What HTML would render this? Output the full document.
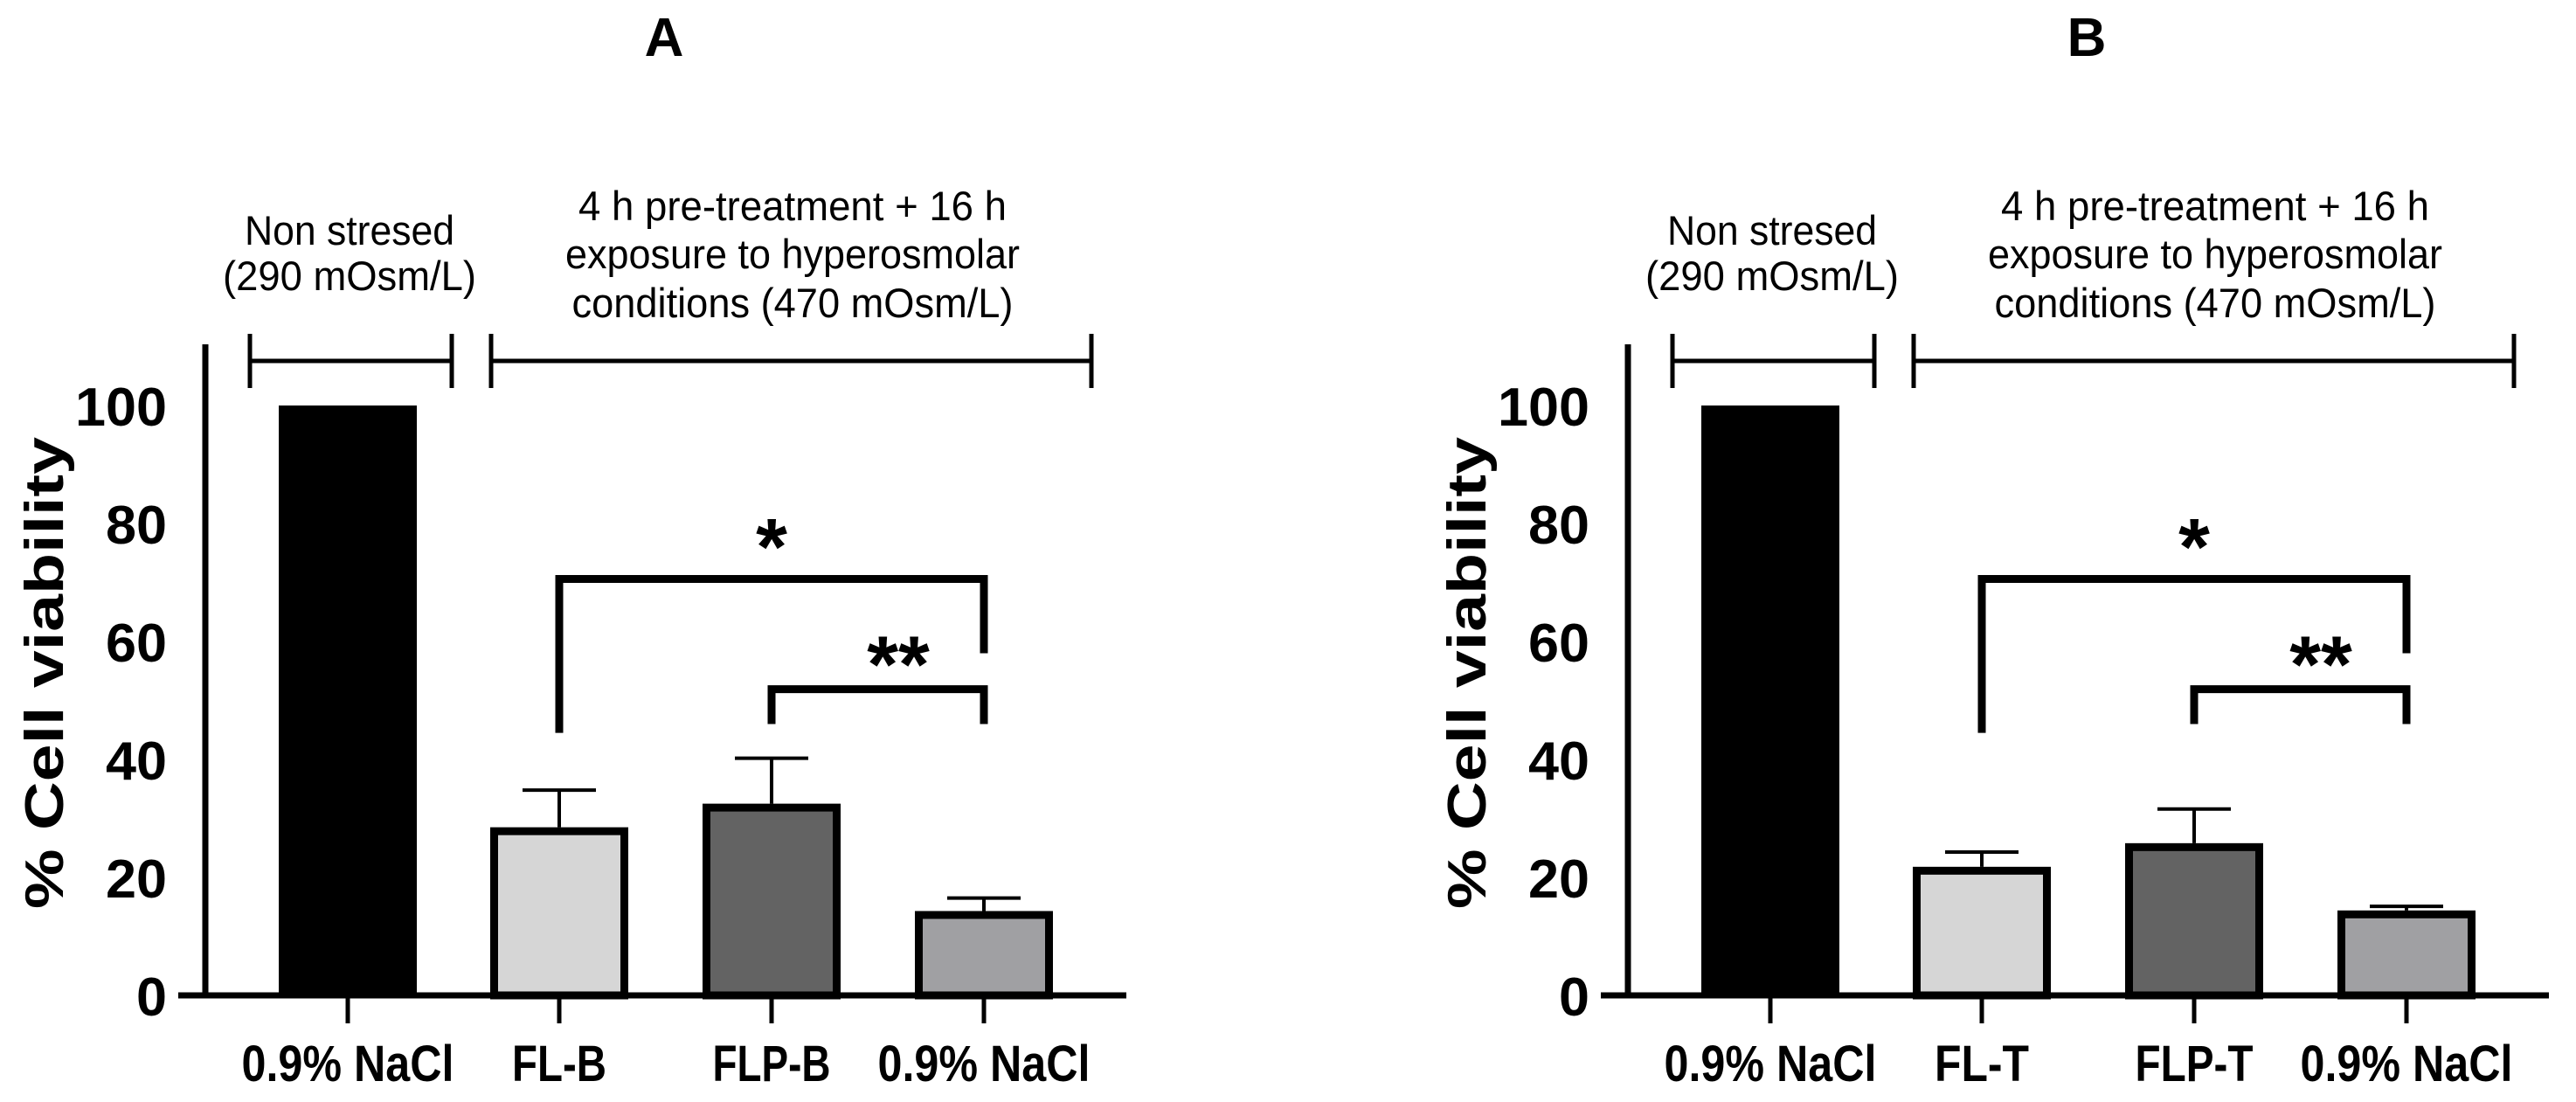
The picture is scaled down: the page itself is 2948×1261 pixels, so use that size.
<!DOCTYPE html>
<html><head><meta charset="utf-8"><style>
html,body{margin:0;padding:0;background:#fff;}
svg{display:block;font-family:"Liberation Sans",Arial,sans-serif;}
</style></head><body>
<svg id="chart" width="2948" height="1261" viewBox="0 0 2948 1261" xmlns="http://www.w3.org/2000/svg"></svg>
<script>
const categoriesA = ["0.9% NaCl","FL-B","FLP-B","0.9% NaCl"];
const categoriesB = ["0.9% NaCl","FL-T","FLP-T","0.9% NaCl"];
const valuesA = [100, 28.5, 32.5, 14.3];
const errorsA = [0, 6.3, 7.7, 2.2];
const valuesB = [100, 21.8, 25.8, 14.4];
const errorsB = [0, 2.5, 5.8, 0.7];
const yTicks = [0, 20, 40, 60, 80, 100];
const sigStars = ["*","**"];

const NS="http://www.w3.org/2000/svg";
const svg=document.getElementById('chart');
const fills=["#000000","#d6d6d6","#636363","#a0a0a3"];
function mk(tag,attrs,parent){const e=document.createElementNS(NS,tag);for(const k in attrs)e.setAttribute(k,attrs[k]);(parent||svg).appendChild(e);return e;}

function panel(ox, title, titleX, cats, vals, errs, name){
  const g=mk('g',{});
  
  
  const axisX=ox+235, base=1139, top100=464;
  const y=v=>base-(base-top100)*v/100;
  const centers=[ox+398, ox+640, ox+883, ox+1126];
  const x=i=>centers[i];
  const bw=158;
  const t=mk('text',{x:titleX,y:64,'font-size':62,'font-weight':'bold','text-anchor':'middle'},g);t.textContent=title;
  
  
  const ya=mk('line',{x1:axisX,y1:394,x2:axisX,y2:base+3,stroke:'#000','stroke-width':7},g);
  
  
  const xa=mk('line',{x1:ox+204,y1:base,x2:ox+1289,y2:base,stroke:'#000','stroke-width':7},g);
  
  
  yTicks.forEach(v=>{
    const s=String(v);
    const tl=mk('text',{x:axisX-44,y:y(v)+23,'font-size':62,'font-weight':'bold','text-anchor':'end',textLength:s.length*35,lengthAdjust:'spacingAndGlyphs'},g);
    tl.textContent=s;
    
    
  });
  const yt=mk('text',{x:0,y:0,'font-size':62,'font-weight':'bold','text-anchor':'middle',textLength:540,lengthAdjust:'spacingAndGlyphs',transform:`translate(${ox+72},770) rotate(-90)`},g);
  yt.textContent='% Cell viability';
  
  
  vals.forEach((v,i)=>{
    const cx=x(i);
    if(errs[i]>0){
      const el=mk('line',{x1:cx,y1:y(v),x2:cx,y2:y(v+errs[i]),stroke:'#000','stroke-width':4},g);
      
      
      const ec=mk('line',{x1:cx-42,y1:y(v+errs[i]),x2:cx+42,y2:y(v+errs[i]),stroke:'#000','stroke-width':4},g);
      
      
    }
    const sw=i===0?0:9;
    const r=mk('rect',{x:cx-bw/2+sw/2,y:y(v)+sw/2,width:bw-sw,height:base-y(v)-sw/2,fill:fills[i],stroke:'#000','stroke-width':sw},g);
    
    
    const tk=mk('line',{x1:cx,y1:base,x2:cx,y2:base+32,stroke:'#000','stroke-width':5},g);
    
    
    const lb=mk('text',{x:cx,y:1237,'font-size':58,'font-weight':'bold','text-anchor':'middle',textLength:cats[i].length*27,lengthAdjust:'spacingAndGlyphs'},g);
    lb.textContent=cats[i];
    
    
  });
  const b1=mk('path',{d:`M${x(1)},${y(44.5)} V${y(70.6)} H${x(3)} V${y(58)}`,fill:'none',stroke:'#000','stroke-width':9},g);
  
  
  const s1=mk('text',{x:(x(1)+x(3))/2,y:y(70.6)-5,'font-size':92,'font-weight':'bold','text-anchor':'middle'},g);
  s1.textContent=sigStars[0];
  
  
  const b2=mk('path',{d:`M${x(2)},${y(46)} V${y(51.9)} H${x(3)} V${y(46)}`,fill:'none',stroke:'#000','stroke-width':9},g);
  
  
  const s2=mk('text',{x:x(3)-98,y:y(60)+58,'font-size':92,'font-weight':'bold','text-anchor':'middle'},g);
  s2.textContent=sigStars[1];
  
  
  const grp=(x1,x2,nm)=>{
    const p=mk('path',{d:`M${x1},382 V444 M${x1},413 H${x2} M${x2},382 V444`,fill:'none',stroke:'#000','stroke-width':5},g);
    
    
  };
  grp(ox+286,ox+517,'non-stressed-bracket');
  grp(ox+562,ox+1249,'hyperosmolar-bracket');
  const ann=(lines,cx,ys,lens,nm)=>{
    lines.forEach((s,j)=>{
      const tx=mk('text',{x:cx,y:ys[j],'font-size':47,'text-anchor':'middle',textLength:lens[j],lengthAdjust:'spacingAndGlyphs'},g);
      tx.textContent=s;
      
      
    });
  };
  ann(['Non stresed','(290 mOsm/L)'],ox+400,[280,332],[240,290],'non-stressed-label');
  ann(['4 h pre-treatment + 16 h','exposure to hyperosmolar','conditions (470 mOsm/L)'],ox+907,[252,307,363],[490,520,505],'hyperosmolar-label');
}
panel(0,'A',760,categoriesA,valuesA,errorsA,'panel-a');
panel(1628,'B',2388,categoriesB,valuesB,errorsB,'panel-b');
</script>
</body></html>
